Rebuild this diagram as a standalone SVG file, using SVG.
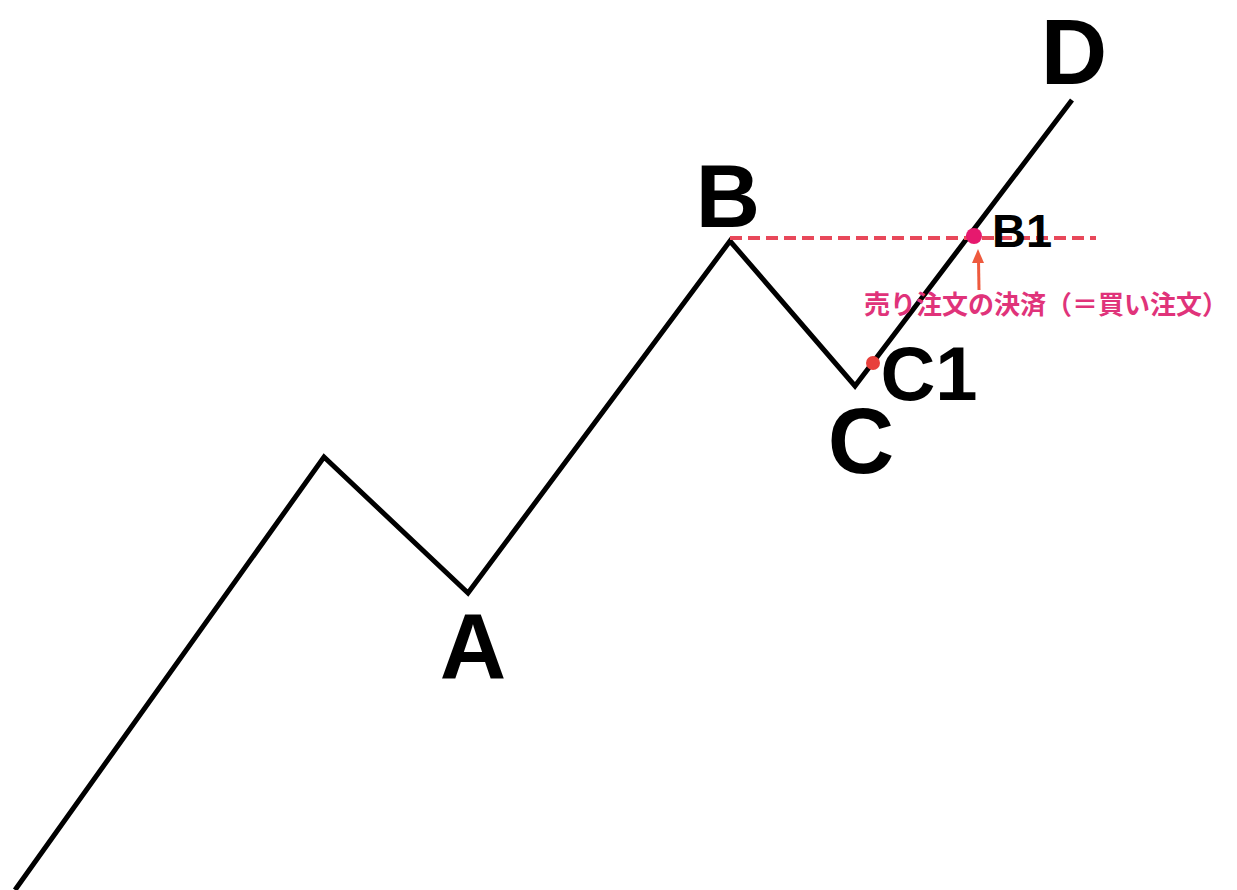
<svg xmlns="http://www.w3.org/2000/svg" width="1237" height="890" viewBox="0 0 1237 890">
<defs>
<style>
.lbl{font-family:"Liberation Sans",Arial,sans-serif;font-weight:bold;fill:#000;text-anchor:middle}
.jp{font-family:"Noto Sans CJK JP","Noto Sans",sans-serif;font-weight:bold;fill:#e0337a}
</style>
</defs>
<rect width="1237" height="890" fill="#fff"/>
<g id="connectors">
<polyline points="15,890 324,457 468,593 730,241 855,386 1072,100" fill="none" stroke="#000" stroke-width="5" stroke-linejoin="miter"/>
<line x1="730" y1="238" x2="1096" y2="238" stroke="#e8485a" stroke-width="4" stroke-dasharray="12 6"/>
<line x1="979" y1="290" x2="978.5" y2="260" stroke="#ee5a3e" stroke-width="3"/>
<polygon points="978,249 984,263 972,263" fill="#ee5a3e"/>
</g>
<g id="A"><text class="lbl" x="473" y="678" font-size="92">A</text></g>
<g id="B"><text class="lbl" x="728" y="227" font-size="89">B</text></g>
<g id="C"><text class="lbl" x="861" y="473" font-size="92">C</text></g>
<g id="D"><text class="lbl" x="1074" y="84" font-size="92">D</text></g>
<g id="C1"><circle cx="873" cy="363" r="7" fill="#e8403c"/><text class="lbl" x="929" y="400" font-size="76">C1</text></g>
<g id="B1"><circle cx="974" cy="236" r="8" fill="#e6196e"/><text class="lbl" x="1022" y="247" font-size="47">B1</text></g>
<g id="note"><text class="jp" x="864" y="314" font-size="26">売り注文の決済（＝買い注文）</text></g>
</svg>
